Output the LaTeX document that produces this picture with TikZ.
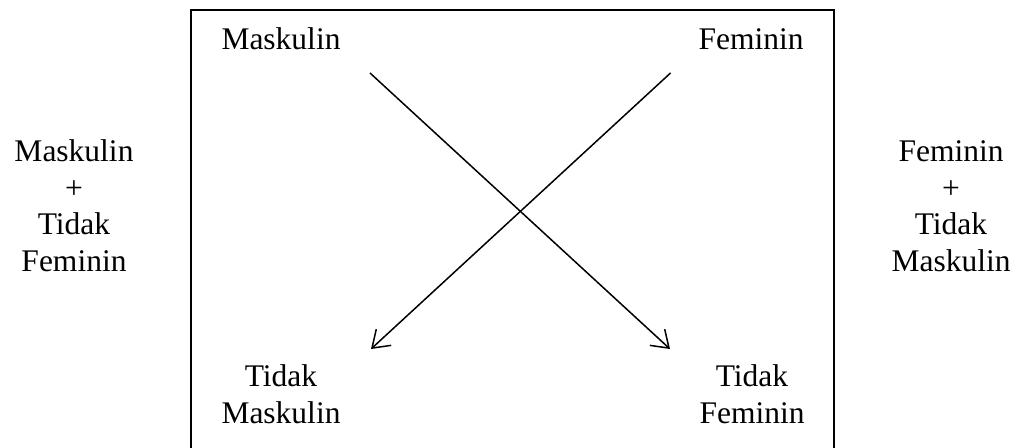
\documentclass[tikz,border=0pt]{standalone}
\usepackage{fontspec}
\setmainfont{Liberation Serif}
\usetikzlibrary{arrows.meta}
\begin{document}
\begin{tikzpicture}[x=1pt,y=-1pt,
  lbl/.style={inner sep=0pt,anchor=base,align=center,font=\fontsize{31.5}{36.5}\selectfont},
  frameline/.style={line width=1.8pt},
  cross/.style={line width=1.5pt,-{Straight Barb[length=16pt,width=22pt,line width=1.5pt]}}]
\useasboundingbox (0,0) rectangle (1019,447);
\coordinate (bl) at (191,449);
\coordinate (tl) at (191,10);
\coordinate (tr) at (834,10);
\coordinate (br) at (834,449);
\draw[frameline] (bl) -- (tl) -- (tr) -- (br);
\node[lbl] (mk) at (281,49.3) {Maskulin};
\node[lbl] (fm) at (751,49.3) {Feminin};
\node[lbl] (tmk) at (281,423.3) {Tidak\\Maskulin};
\node[lbl] (tfm) at (752,423.3) {Tidak\\Feminin};
\node[lbl] (left) at (74,271.2) {Maskulin\\+\\Tidak\\Feminin};
\node[lbl] (right) at (951,271.2) {Feminin\\+\\Tidak\\Maskulin};
\coordinate (a1s) at (370,73);
\coordinate (a1e) at (670,349);
\coordinate (a2s) at (670.5,73);
\coordinate (a2e) at (371,349);
\draw[cross] (a1s) -- (a1e);
\draw[cross] (a2s) -- (a2e);
\end{tikzpicture}
\end{document}
